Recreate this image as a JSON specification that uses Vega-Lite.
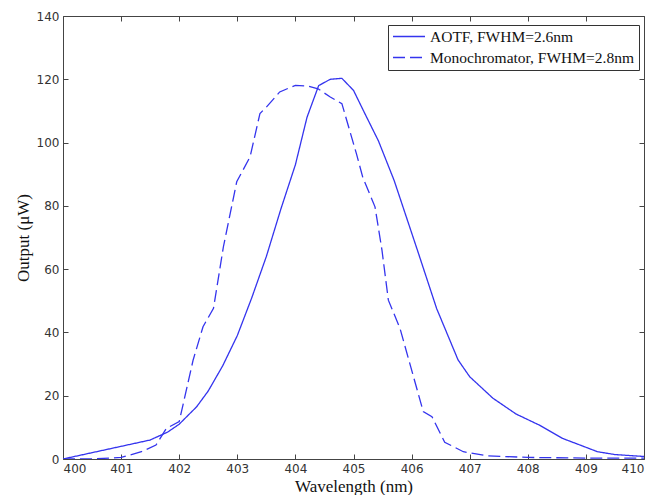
{
  "$schema": "https://vega.github.io/schema/vega-lite/v6.json",
  "width": 581,
  "height": 443,
  "autosize": {"type": "none"},
  "padding": {"left": 63, "top": 16, "right": 11, "bottom": 36},
  "background": "white",
  "config": {
    "view": {"stroke": "#444", "strokeWidth": 1},
    "axis": {"grid": false, "domain": false, "tickColor": "#444", "tickSize": -5, "labelFont": "DejaVu Sans", "labelFontSize": 12, "labelColor": "#333", "titleFont": "Liberation Serif", "titleFontSize": 17, "titleFontWeight": "normal", "titleColor": "#111"}
  },
  "data": {"values": [
    {"wl": 400, "out": 0, "series": "AOTF, FWHM=2.6nm"},
    {"wl": 400.5, "out": 2, "series": "AOTF, FWHM=2.6nm"},
    {"wl": 401, "out": 4, "series": "AOTF, FWHM=2.6nm"},
    {"wl": 401.5, "out": 6, "series": "AOTF, FWHM=2.6nm"},
    {"wl": 401.8, "out": 8.5, "series": "AOTF, FWHM=2.6nm"},
    {"wl": 402, "out": 11, "series": "AOTF, FWHM=2.6nm"},
    {"wl": 402.3, "out": 16.5, "series": "AOTF, FWHM=2.6nm"},
    {"wl": 402.5, "out": 21.5, "series": "AOTF, FWHM=2.6nm"},
    {"wl": 402.75, "out": 29.5, "series": "AOTF, FWHM=2.6nm"},
    {"wl": 403, "out": 39, "series": "AOTF, FWHM=2.6nm"},
    {"wl": 403.25, "out": 51, "series": "AOTF, FWHM=2.6nm"},
    {"wl": 403.5, "out": 64, "series": "AOTF, FWHM=2.6nm"},
    {"wl": 403.75, "out": 79, "series": "AOTF, FWHM=2.6nm"},
    {"wl": 404, "out": 93, "series": "AOTF, FWHM=2.6nm"},
    {"wl": 404.2, "out": 108, "series": "AOTF, FWHM=2.6nm"},
    {"wl": 404.4, "out": 118, "series": "AOTF, FWHM=2.6nm"},
    {"wl": 404.6, "out": 120, "series": "AOTF, FWHM=2.6nm"},
    {"wl": 404.8, "out": 120.3, "series": "AOTF, FWHM=2.6nm"},
    {"wl": 405, "out": 116.5, "series": "AOTF, FWHM=2.6nm"},
    {"wl": 405.2, "out": 109, "series": "AOTF, FWHM=2.6nm"},
    {"wl": 405.43, "out": 100.5, "series": "AOTF, FWHM=2.6nm"},
    {"wl": 405.7, "out": 88, "series": "AOTF, FWHM=2.6nm"},
    {"wl": 406.1, "out": 66, "series": "AOTF, FWHM=2.6nm"},
    {"wl": 406.43, "out": 47.6, "series": "AOTF, FWHM=2.6nm"},
    {"wl": 406.8, "out": 31.3, "series": "AOTF, FWHM=2.6nm"},
    {"wl": 407, "out": 26, "series": "AOTF, FWHM=2.6nm"},
    {"wl": 407.4, "out": 19.2, "series": "AOTF, FWHM=2.6nm"},
    {"wl": 407.8, "out": 14.2, "series": "AOTF, FWHM=2.6nm"},
    {"wl": 408.2, "out": 10.7, "series": "AOTF, FWHM=2.6nm"},
    {"wl": 408.6, "out": 6.5, "series": "AOTF, FWHM=2.6nm"},
    {"wl": 409.2, "out": 2.3, "series": "AOTF, FWHM=2.6nm"},
    {"wl": 409.5, "out": 1.4, "series": "AOTF, FWHM=2.6nm"},
    {"wl": 410, "out": 0.8, "series": "AOTF, FWHM=2.6nm"},
    {"wl": 400, "out": 0, "series": "Monochromator, FWHM=2.8nm"},
    {"wl": 400.5, "out": 0, "series": "Monochromator, FWHM=2.8nm"},
    {"wl": 401, "out": 0.5, "series": "Monochromator, FWHM=2.8nm"},
    {"wl": 401.35, "out": 2.3, "series": "Monochromator, FWHM=2.8nm"},
    {"wl": 401.6, "out": 4.4, "series": "Monochromator, FWHM=2.8nm"},
    {"wl": 401.78, "out": 9.7, "series": "Monochromator, FWHM=2.8nm"},
    {"wl": 402, "out": 11.8, "series": "Monochromator, FWHM=2.8nm"},
    {"wl": 402.24, "out": 31.3, "series": "Monochromator, FWHM=2.8nm"},
    {"wl": 402.41, "out": 41.8, "series": "Monochromator, FWHM=2.8nm"},
    {"wl": 402.59, "out": 47.6, "series": "Monochromator, FWHM=2.8nm"},
    {"wl": 402.76, "out": 67, "series": "Monochromator, FWHM=2.8nm"},
    {"wl": 402.99, "out": 87.6, "series": "Monochromator, FWHM=2.8nm"},
    {"wl": 403.22, "out": 95.5, "series": "Monochromator, FWHM=2.8nm"},
    {"wl": 403.39, "out": 109.2, "series": "Monochromator, FWHM=2.8nm"},
    {"wl": 403.5, "out": 111.2, "series": "Monochromator, FWHM=2.8nm"},
    {"wl": 403.73, "out": 116, "series": "Monochromator, FWHM=2.8nm"},
    {"wl": 404, "out": 118.1, "series": "Monochromator, FWHM=2.8nm"},
    {"wl": 404.2, "out": 117.9, "series": "Monochromator, FWHM=2.8nm"},
    {"wl": 404.39, "out": 117, "series": "Monochromator, FWHM=2.8nm"},
    {"wl": 404.6, "out": 114.4, "series": "Monochromator, FWHM=2.8nm"},
    {"wl": 404.8, "out": 112.3, "series": "Monochromator, FWHM=2.8nm"},
    {"wl": 405.05, "out": 96.5, "series": "Monochromator, FWHM=2.8nm"},
    {"wl": 405.16, "out": 89, "series": "Monochromator, FWHM=2.8nm"},
    {"wl": 405.37, "out": 79.7, "series": "Monochromator, FWHM=2.8nm"},
    {"wl": 405.49, "out": 66, "series": "Monochromator, FWHM=2.8nm"},
    {"wl": 405.6, "out": 50.2, "series": "Monochromator, FWHM=2.8nm"},
    {"wl": 405.8, "out": 41.3, "series": "Monochromator, FWHM=2.8nm"},
    {"wl": 406.2, "out": 15, "series": "Monochromator, FWHM=2.8nm"},
    {"wl": 406.35, "out": 13.4, "series": "Monochromator, FWHM=2.8nm"},
    {"wl": 406.57, "out": 5.3, "series": "Monochromator, FWHM=2.8nm"},
    {"wl": 406.89, "out": 2.3, "series": "Monochromator, FWHM=2.8nm"},
    {"wl": 407.3, "out": 1, "series": "Monochromator, FWHM=2.8nm"},
    {"wl": 408, "out": 0.5, "series": "Monochromator, FWHM=2.8nm"},
    {"wl": 409, "out": 0.3, "series": "Monochromator, FWHM=2.8nm"},
    {"wl": 410, "out": 0.3, "series": "Monochromator, FWHM=2.8nm"}
  ]},
  "layer": [
    {
      "mark": {"type": "line", "color": "#3434ee", "strokeWidth": 1.3, "clip": true},
      "encoding": {
        "x": {"field": "wl", "type": "quantitative", "scale": {"domain": [400, 410], "nice": false, "zero": false},
              "axis": {"orient": "bottom", "values": [400,401,402,403,404,405,406,407,408,409,410], "format": "d", "title": "Wavelength (nm)", "labelPadding": 9, "titlePadding": 4}},
        "y": {"field": "out", "type": "quantitative", "scale": {"domain": [0, 140], "nice": false},
              "axis": {"orient": "left", "values": [0,20,40,60,80,100,120,140], "title": "Output (μW)", "labelPadding": 9, "titlePadding": 4}},
        "strokeDash": {"field": "series", "type": "nominal",
          "scale": {"domain": ["AOTF, FWHM=2.6nm", "Monochromator, FWHM=2.8nm"], "range": [[1, 0], [12, 5]]},
          "legend": {"orient": "none", "legendX": 325, "legendY": 9, "title": null, "fillColor": "white", "strokeColor": "#333", "padding": 4, "rowPadding": 5, "clipHeight": 15,
                     "symbolType": "stroke", "symbolSize": 1024, "symbolStrokeWidth": 1.3, "symbolStrokeColor": "#3434ee",
                     "labelFont": "Liberation Serif", "labelFontSize": 15.5, "labelColor": "#111", "labelOffset": 4, "labelLimit": 400}}
      }
    },
    {
      "mark": {"type": "line", "opacity": 0},
      "encoding": {
        "x": {"field": "wl", "type": "quantitative", "scale": {"domain": [400, 410], "nice": false, "zero": false},
              "axis": {"orient": "top", "values": [400,401,402,403,404,405,406,407,408,409,410], "labels": false, "title": null}},
        "y": {"field": "out", "type": "quantitative", "scale": {"domain": [0, 140], "nice": false},
              "axis": {"orient": "right", "values": [0,20,40,60,80,100,120,140], "labels": false, "title": null}}
      }
    }
  ],
  "resolve": {"axis": {"x": "independent", "y": "independent"}}
}
